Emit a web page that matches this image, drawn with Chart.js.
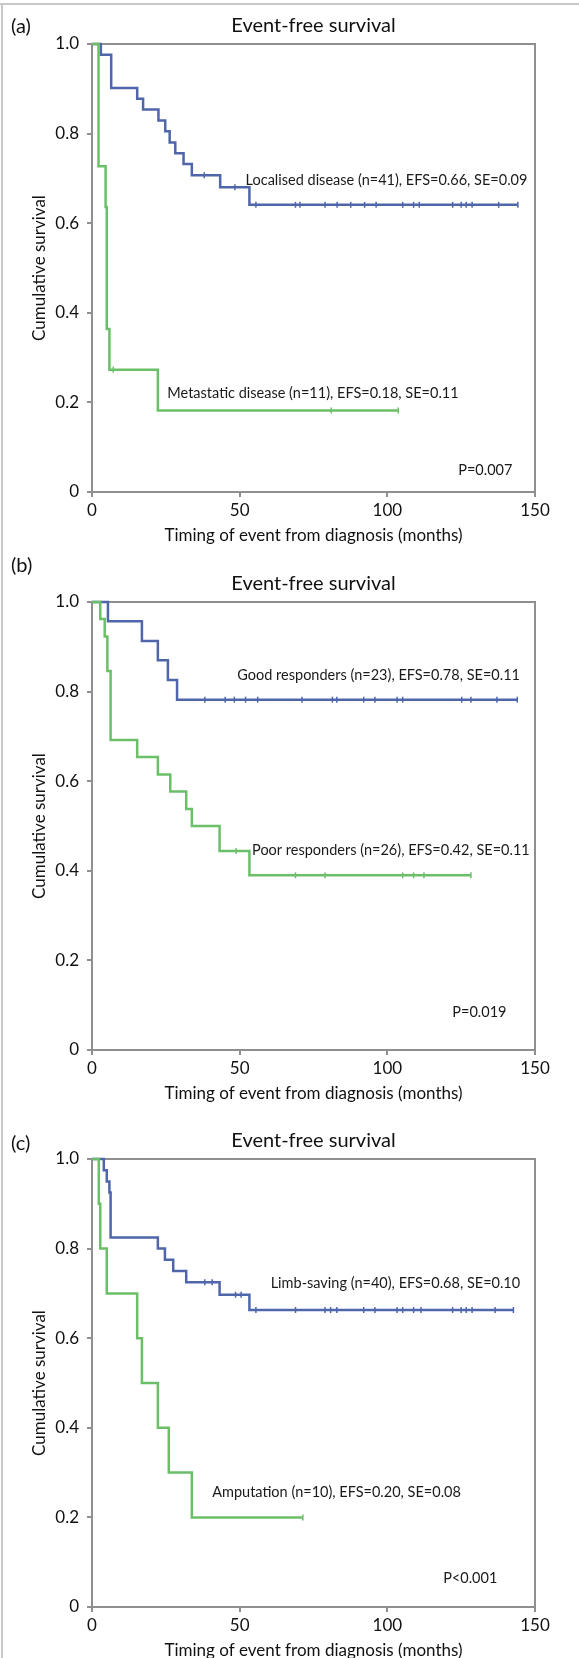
<!DOCTYPE html>
<html>
<head>
<meta charset="utf-8">
<script src="https://cdn.jsdelivr.net/npm/chart.js@4.4.0/dist/chart.umd.min.js"></script>
<style>
  html, body { margin: 0; padding: 0; background: #fff; }
  #page { position: relative; width: 579px; height: 1658px; overflow: hidden; font-family: Lato, sans-serif; }
  .frame-top { position: absolute; left: 0; top: 3px; width: 579px; height: 2px; background: #c8c8c8; }
  .frame-left { position: absolute; left: 1px; top: 3px; width: 2px; height: 1655px; background: #c8c8c8; }
  .panel { position: absolute; left: 0; width: 579px; height: 558px; }
  .tag { position: absolute; left: 11px; font-size: 20px; line-height: 22px; color: #111; }
</style>
</head>
<body>
<div id="page">
  <div class="frame-top"></div>
  <div class="frame-left"></div>
  <div class="panel" style="top:0px"><canvas id="chartA" width="579" height="558"></canvas></div>
  <div class="panel" style="top:558px"><canvas id="chartB" width="579" height="558"></canvas></div>
  <div class="panel" style="top:1115px"><canvas id="chartC" width="579" height="558"></canvas></div>
  <div class="tag" id="tagA" style="top:14px"></div>
  <div class="tag" id="tagB" style="top:553px"></div>
  <div class="tag" id="tagC" style="top:1131px"></div>
</div>
<script>
var panelTags = ['(a)', '(b)', '(c)'];
var chartTitle = 'Event-free survival';
var xAxisTitle = 'Timing of event from diagnosis (months)';
var yAxisTitle = 'Cumulative survival';
var xTickValues = [0, 50, 100, 150];
var yTickValues = [0, 0.2, 0.4, 0.6, 0.8, 1.0];
var yTickLabels = ['0', '0.2', '0.4', '0.6', '0.8', '1.0'];

// (a) localised vs metastatic disease
var locTime   = [0, 3.0, 6.5, 15.3, 17.3, 22.5, 24.8, 26.3, 28.2, 31.0, 33.8, 43.4, 53.3, 144.2];
var locSurv   = [1.0, 0.976, 0.902, 0.878, 0.854, 0.829, 0.805, 0.780, 0.756, 0.732, 0.707, 0.680, 0.641, 0.641];
var locCensor = [38.0, 48.4, 55.5, 68.9, 70.4, 78.9, 83.0, 87.6, 92.3, 96.2, 105.2, 108.9, 110.8, 122.1, 125.0, 126.7, 128.7, 137.7, 144.2];
var metTime   = [0, 2.2, 4.6, 5.0, 5.9, 22.3, 103.7];
var metSurv   = [1.0, 0.727, 0.636, 0.364, 0.273, 0.182, 0.182];
var metCensor = [7.2, 81.0, 103.7];

// (b) good vs poor responders
var goodTime   = [0, 5.4, 16.9, 22.3, 25.7, 28.8, 144.0];
var goodSurv   = [1.0, 0.957, 0.913, 0.870, 0.826, 0.782, 0.782];
var goodCensor = [38.2, 45.1, 48.2, 52.0, 56.1, 71.1, 81.4, 82.9, 92.0, 95.8, 103.3, 105.2, 125.2, 128.3, 137.1, 144.0];
var poorTime   = [0, 2.8, 4.3, 5.2, 6.3, 15.3, 22.3, 26.5, 31.9, 33.8, 43.2, 53.3, 128.3];
var poorSurv   = [1.0, 0.962, 0.923, 0.846, 0.692, 0.654, 0.615, 0.577, 0.538, 0.500, 0.444, 0.390, 0.390];
var poorCensor = [48.8, 68.9, 78.9, 105.2, 108.9, 112.4, 128.3];

// (c) limb-saving vs amputation
var limbTime   = [0, 4.0, 5.0, 5.9, 6.3, 22.3, 24.7, 27.5, 31.9, 43.2, 53.3, 142.7];
var limbSurv   = [1.0, 0.975, 0.950, 0.925, 0.825, 0.800, 0.775, 0.750, 0.725, 0.697, 0.663, 0.663];
var limbCensor = [38.2, 40.7, 48.6, 50.5, 55.5, 68.9, 78.9, 80.8, 82.9, 92.0, 95.8, 103.3, 105.2, 108.9, 111.4, 122.1, 125.0, 126.7, 128.7, 136.5, 142.7];
var ampTime    = [0, 2.3, 2.8, 5.0, 15.3, 16.9, 22.3, 26.0, 33.8, 71.4];
var ampSurv    = [1.0, 0.9, 0.8, 0.7, 0.6, 0.5, 0.4, 0.3, 0.2, 0.2];
var ampCensor  = [71.4];

var groupLabels = [
    ['Localised disease (n=41), EFS=0.66, SE=0.09', 'Metastatic disease (n=11), EFS=0.18, SE=0.11'],
    ['Good responders (n=23), EFS=0.78, SE=0.11', 'Poor responders (n=26), EFS=0.42, SE=0.11'],
    ['Limb-saving (n=40), EFS=0.68, SE=0.10', 'Amputation (n=10), EFS=0.20, SE=0.08']
];
var pLabels = ['P=0.007', 'P=0.019', 'P<0.001'];

// where the notes sit, in axis units
var notePlaces = [
    [[52.0, 0.696], [25.5, 0.220], [124.0, 0.049]],
    [[49.2, 0.837], [54.2, 0.445], [122.0, 0.083]],
    [[60.5, 0.722], [40.7, 0.256], [118.9, 0.065]]
];

var blueColor = '#4f66aa';
var greenColor = '#6cbf69';
var axisColor = '#8f8f8f';

Chart.defaults.font.family = 'Lato, sans-serif';

var survAt = function(times, surv, t) {
    let v = surv[0];
    for (let i = 0; i < times.length; i++) {
        if (times[i] <= t) v = surv[i];
    }
    return v;
};

var curveSet = function(times, surv, color) {
    return {
        data: times.map((t, i) => ({x: t, y: surv[i]})),
        showLine: true,
        stepped: 'before',
        borderColor: color,
        borderWidth: 2.5,
        pointRadius: 0,
        clip: false
    };
};

var censorSet = function(times, surv, cens, color) {
    return {
        data: cens.map(c => ({x: c, y: survAt(times, surv, c)})),
        showLine: false,
        pointStyle: 'line',
        rotation: 90,
        pointRadius: 3,
        borderWidth: 1.5,
        borderColor: color,
        backgroundColor: color,
        clip: false
    };
};

var kmExtras = {
    id: 'kmExtras',
    beforeDatasetsDraw(chart) {
        const a = chart.chartArea, ctx = chart.ctx;
        ctx.save();
        ctx.strokeStyle = axisColor;
        ctx.lineWidth = 2;
        ctx.strokeRect(a.left, a.top, a.right - a.left, a.bottom - a.top);
        ctx.restore();
    },
    afterDatasetsDraw(chart, args, opts) {
        const ctx = chart.ctx, xs = chart.scales.x, ys = chart.scales.y;
        ctx.save();
        ctx.font = '14.5px Lato';
        ctx.fillStyle = '#1a1a1a';
        ctx.textBaseline = 'middle';
        (opts.notes || []).forEach(n => {
            ctx.fillText(n.text, xs.getPixelForValue(n.x), ys.getPixelForValue(n.y));
        });
        ctx.restore();
    }
};

var createKmChart = function(id, idx, blue, green) {
    const notes = [
        {text: groupLabels[idx][0], x: notePlaces[idx][0][0], y: notePlaces[idx][0][1]},
        {text: groupLabels[idx][1], x: notePlaces[idx][1][0], y: notePlaces[idx][1][1]},
        {text: pLabels[idx], x: notePlaces[idx][2][0], y: notePlaces[idx][2][1]}
    ];
    return new Chart(document.getElementById(id), {
        type: 'scatter',
        data: {
            datasets: [
                curveSet(green[0], green[1], greenColor),
                curveSet(blue[0], blue[1], blueColor),
                censorSet(green[0], green[1], green[2], greenColor),
                censorSet(blue[0], blue[1], blue[2], blueColor)
            ]
        },
        plugins: [kmExtras],
        options: {
            responsive: false,
            animation: false,
            layout: {padding: {left: 0, right: 44, top: 0, bottom: 0}},
            plugins: {
                legend: {display: false},
                tooltip: {enabled: false},
                title: {
                    display: true,
                    text: chartTitle,
                    fullSize: false,
                    color: '#111',
                    font: {size: 20, weight: 'normal', lineHeight: 1.2},
                    padding: {top: 14, bottom: 6}
                },
                kmExtras: {notes: notes}
            },
            scales: {
                x: {
                    type: 'linear',
                    min: 0,
                    max: 150,
                    afterBuildTicks: s => { s.ticks = xTickValues.map(v => ({value: v})); },
                    afterFit: s => { s.height = 66; },
                    border: {display: false},
                    grid: {drawOnChartArea: false, drawTicks: true, tickLength: 5, color: axisColor, lineWidth: 2},
                    ticks: {color: '#111', font: {size: 17}, padding: 3, maxRotation: 0, autoSkip: false},
                    title: {display: true, text: xAxisTitle, color: '#111', font: {size: 17}, padding: {top: 0, bottom: 12}}
                },
                y: {
                    type: 'linear',
                    min: 0,
                    max: 1,
                    afterBuildTicks: s => { s.ticks = yTickValues.map(v => ({value: v})); },
                    afterFit: s => { s.width = 92; },
                    border: {display: false},
                    grid: {drawOnChartArea: false, drawTicks: true, tickLength: 5, color: axisColor, lineWidth: 2},
                    ticks: {
                        color: '#111',
                        font: {size: 17},
                        padding: 8,
                        autoSkip: false,
                        callback: (v, i) => yTickLabels[i]
                    },
                    title: {display: true, text: yAxisTitle, color: '#111', font: {size: 17}, padding: {top: 29, bottom: 0}}
                }
            }
        }
    });
};

document.getElementById('tagA').textContent = panelTags[0];
document.getElementById('tagB').textContent = panelTags[1];
document.getElementById('tagC').textContent = panelTags[2];

createKmChart('chartA', 0, [locTime, locSurv, locCensor], [metTime, metSurv, metCensor]);
createKmChart('chartB', 1, [goodTime, goodSurv, goodCensor], [poorTime, poorSurv, poorCensor]);
createKmChart('chartC', 2, [limbTime, limbSurv, limbCensor], [ampTime, ampSurv, ampCensor]);
</script>
</body>
</html>
